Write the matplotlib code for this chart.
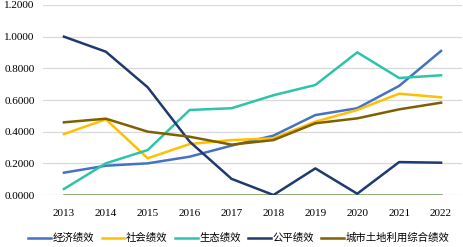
import matplotlib
matplotlib.use("Agg")
import matplotlib.pyplot as plt
from matplotlib.lines import Line2D

years = [2013, 2014, 2015, 2016, 2017, 2018, 2019, 2020, 2021, 2022]
economic = [0.141, 0.185, 0.200, 0.242, 0.312, 0.375, 0.505, 0.548, 0.689, 0.910]
social = [0.385, 0.478, 0.232, 0.322, 0.347, 0.358, 0.463, 0.537, 0.640, 0.617]
ecological = [0.038, 0.200, 0.284, 0.537, 0.548, 0.630, 0.695, 0.901, 0.739, 0.756]
equity = [1.000, 0.905, 0.680, 0.337, 0.102, 0.000, 0.168, 0.008, 0.208, 0.204]
composite = [0.459, 0.482, 0.400, 0.368, 0.318, 0.347, 0.453, 0.484, 0.541, 0.583]
baseline = [0.0] * 10

names = ["经济绩效", "社会绩效", "生态绩效", "公平绩效", "城市土地利用综合绩效"]
colors = ["#4472C4", "#FFC000", "#2EC4A9", "#1F3A6E", "#7F6000"]
yticks = [0.0, 0.2, 0.4, 0.6, 0.8, 1.0, 1.2]

fig = plt.figure(figsize=(4.64, 2.47), dpi=100)
ax = fig.add_axes([43/464, 1-195/247, (462-43)/464, 190/247])

xs = list(range(len(years)))
ax.plot(xs, baseline, color="#6A994E", lw=1.8, zorder=2)
for vals, c in zip([economic, social, ecological, equity, composite], colors):
    ax.plot(xs, vals, color=c, lw=1.8, zorder=3)

ax.set_xlim(-0.5, len(years) - 0.5)
ax.set_ylim(0, 1.2)
ax.set_yticks(yticks)
ax.set_yticklabels([f"{v:.4f}" for v in yticks], family="Liberation Serif", fontsize=8)
ax.set_xticks(xs)
ax.set_xticklabels([str(y) for y in years], family="Liberation Serif", fontsize=8)
ax.tick_params(axis="x", length=0, pad=10)
ax.tick_params(axis="y", length=0, pad=6)
ax.grid(axis="y", color="#D9D9D9", lw=0.9, zorder=0)
for s in ax.spines.values():
    s.set_visible(False)

handles = [Line2D([0], [0], color=c, lw=1.8) for c in colors]
fig.legend(handles, names, loc="center", bbox_to_anchor=(0.515, 1-238/247), ncol=5,
           frameon=False, prop={"family": ["Noto Sans CJK SC", "DejaVu Sans"], "size": 7.5},
           handlelength=2.2, handletextpad=0.15, columnspacing=0.7)

fig.savefig("out.png", dpi=100)
